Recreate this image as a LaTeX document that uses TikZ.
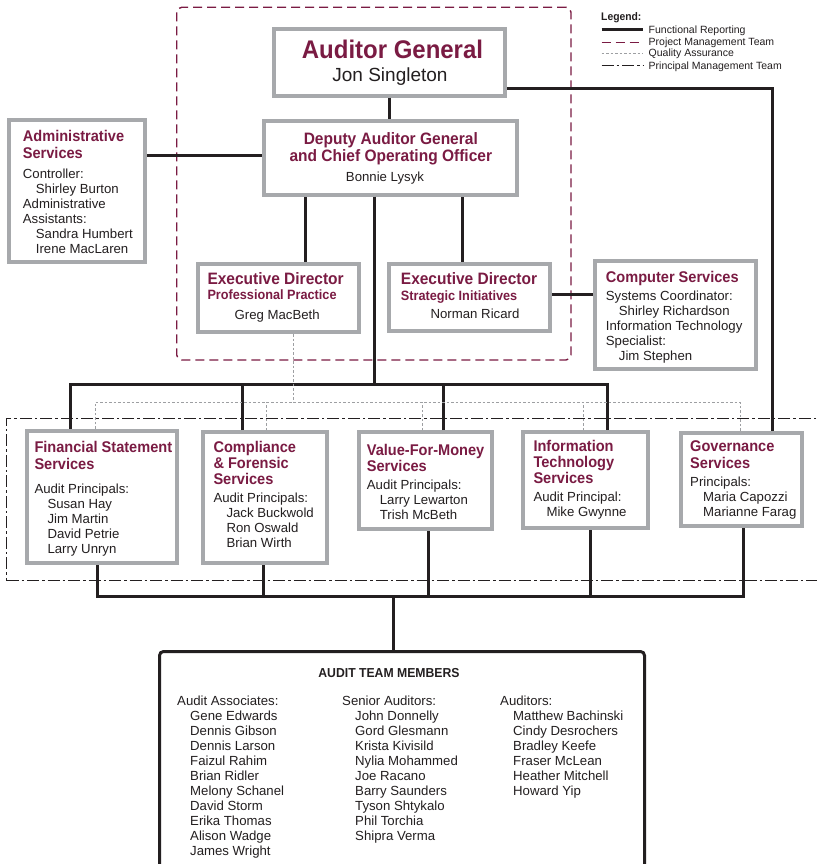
\documentclass[tikz,border=0pt]{standalone}
\usepackage{fontspec}
\setmainfont{Liberation Sans}[BoldFeatures={FakeStretch=0.94}]
\definecolor{oagmaroon}{HTML}{7A1B43}
\definecolor{framegray}{HTML}{A7A9AC}
\definecolor{ink}{HTML}{231F20}
\definecolor{qagray}{HTML}{9D9FA2}
\newcommand{\indname}{\hspace*{13pt}}

\begin{document}
\begin{tikzpicture}[x=1pt, y=-1pt,
  box/.style={rectangle, draw=framegray, line width=4pt, fill=white, inner sep=0pt, outer sep=2pt},
  ttl/.style={font=\bfseries\fontsize{15.5}{16.3}\selectfont, text=oagmaroon, align=left, inner sep=0pt, anchor=base west},
  bigttl/.style={ttl, font=\bfseries\fontsize{16.5}{17.7}\selectfont},
  subttl/.style={ttl, font=\bfseries\fontsize{13.5}{15}\selectfont},
  txt/.style={font=\fontsize{13.2}{15}\selectfont, text=ink, align=left, inner sep=0pt, anchor=base west},
  legtxt/.style={txt, font=\fontsize{10.5}{12}\selectfont},
  fun/.style={draw=ink, line width=3pt},
  qa/.style={draw=qagray, line width=0.9pt, dash pattern=on 2.5pt off 2pt},
  proj/.style={draw=oagmaroon, line width=1.4pt, dash pattern=on 9pt off 5pt},
  princ/.style={draw=ink, line width=1.3pt, dash pattern=on 12pt off 3pt on 2.5pt off 3pt}]
\path[use as bounding box, fill=white] (0,0) rectangle (816,864);
% team outlines
\node[proj, rounded corners=5pt, minimum width=394.3pt, minimum height=352.7pt, inner sep=0pt] (projteam) at (373.85,183.65) {};
\node[princ, minimum width=833.3pt, minimum height=162.4pt, inner sep=0pt] (princteam) at (423.35,499.5) {};
% boxes
\node[box, minimum width=231pt, minimum height=67pt] (ag) at (389.8,62.2) {};
\node[box, minimum width=253.3pt, minimum height=73.2pt] (dep) at (390.6,157.9) {};
\node[box, minimum width=135.7pt, minimum height=142pt] (admin) at (76.9,191) {};
\node[box, minimum width=161pt, minimum height=68.3pt] (pp) at (278.2,297.9) {};
\node[box, minimum width=161pt, minimum height=67.6pt] (si) at (469.8,297.5) {};
\node[box, minimum width=161pt, minimum height=107.7pt] (cs) at (675.8,315.2) {};
\node[box, minimum width=150.3pt, minimum height=132.3pt] (fss) at (102.2,496.9) {};
\node[box, minimum width=124pt, minimum height=131.3pt] (comp) at (264.7,497.7) {};
\node[box, minimum width=133.3pt, minimum height=97.3pt] (vfm) at (425.4,480.7) {};
\node[box, minimum width=125.3pt, minimum height=96pt] (it) at (585.4,480) {};
\node[box, minimum width=120.7pt, minimum height=93.3pt] (gov) at (741.7,479.4) {};
\node[draw=ink, line width=3pt, rounded corners=4pt, inner sep=0pt, outer sep=1.5pt, minimum width=485pt, minimum height=248.5pt] (team) at (402,775.75) {};
% functional reporting
\draw[fun] (ag.south) -- (ag.south |- dep.north);
\draw[fun] ([yshift=2pt]dep.west) -- ([yshift=2pt]dep.west -| admin.east);
\draw[fun] ([xshift=26.8pt]pp.north) -- ([xshift=26.8pt]pp.north |- dep.south);
\draw[fun] ([xshift=-7.1pt]si.north) -- ([xshift=-7.1pt]si.north |- dep.south);
\draw[fun] ([yshift=3.2pt]si.east) -- ([yshift=3.2pt]si.east -| cs.west);
\draw[fun] ([yshift=-26.1pt]ag.east) -| ([xshift=31pt]gov.north);
\coordinate (topbus) at (374,384);
\draw[fun] ([xshift=-16.6pt]dep.south) -- (topbus);
\draw[fun] ([xshift=-32.2pt]fss.north) |- (topbus) -| ([xshift=22pt]it.north);
\foreach \b/\dx in {comp/-22pt, vfm/18pt}
  \draw[fun] ([xshift=\dx]\b.north) -- ([xshift=\dx]\b.north |- topbus);
\coordinate (botbus) at (393.75,596.7);
\draw[fun] ([xshift=-4.8pt]fss.south) |- (botbus) -| ([xshift=2pt]gov.south);
\foreach \b/\dx in {comp/-1.7pt, vfm/2.7pt, it/4.7pt}
  \draw[fun] ([xshift=\dx]\b.south) -- ([xshift=\dx]\b.south |- botbus);
\draw[fun] (botbus) -- (botbus |- team.north);
% quality assurance
\coordinate (qatop) at (293.3,402.3);
\draw[qa] (pp.south -| qatop) -- (qatop);
\draw[qa] ([xshift=-7.2pt]fss.north) |- (qatop) -| ([xshift=-1.7pt]gov.north);
\foreach \b/\dx in {comp/1.3pt, vfm/-3.3pt, it/-2.3pt}
  \draw[qa] ([xshift=\dx]\b.north) -- ([xshift=\dx]\b.north |- qatop);
% texts (multi-line nodes sit on their last baseline)
\node[ttl, font=\bfseries\fontsize{25.5}{28}\selectfont, anchor=base] (ag-t) at (392.5,58.3) {Auditor General};
\node[txt, font=\fontsize{19}{22}\selectfont, anchor=base] (ag-n) at (390,82) {Jon Singleton};
\node[bigttl, anchor=base, align=center] (dep-t) at (390.8,161.7) {Deputy Auditor General\\and Chief Operating Officer};
\node[txt, anchor=base] (dep-n) at (385,181.7) {Bonnie Lysyk};
\node[ttl] (admin-t) at (22.7,158) {Administrative\\Services};
\node[txt] (admin-b) at (22.7,253.3) {Controller:\\\indname Shirley Burton\\Administrative\\Assistants:\\\indname Sandra Humbert\\\indname Irene MacLaren};
\node[bigttl] (pp-t) at (207.3,284.3) {Executive Director};
\node[subttl] (pp-s) at (207.3,299) {Professional Practice};
\node[txt, anchor=base] (pp-n) at (277.2,319) {Greg MacBeth};
\node[bigttl] (si-t) at (400.7,284.3) {Executive Director};
\node[subttl] (si-s) at (400.7,300) {Strategic Initiatives};
\node[txt, anchor=base] (si-n) at (475,318) {Norman Ricard};
\node[ttl] (cs-t) at (605.7,282.3) {Computer Services};
\node[txt] (cs-b) at (605.7,360) {Systems Coordinator:\\\indname Shirley Richardson\\Information Technology\\Specialist:\\\indname Jim Stephen};
\node[ttl] (fss-t) at (34.3,469) {Financial Statement\\Services};
\node[txt] (fss-b) at (34.3,553.3) {Audit Principals:\\\indname Susan Hay\\\indname Jim Martin\\\indname David Petrie\\\indname Larry Unryn};
\node[ttl] (comp-t) at (213.3,484.9) {Compliance\\\& Forensic\\Services};
\node[txt] (comp-b) at (213.3,547.7) {Audit Principals:\\\indname Jack Buckwold\\\indname Ron Oswald\\\indname Brian Wirth};
\node[ttl] (vfm-t) at (366.7,471.3) {Value-For-Money\\Services};
\node[txt] (vfm-b) at (366.7,519) {Audit Principals:\\\indname Larry Lewarton\\\indname Trish McBeth};
\node[ttl] (it-t) at (533.3,483.6) {Information\\Technology\\Services};
\node[txt] (it-b) at (533.3,516.7) {Audit Principal:\\\indname Mike Gwynne};
\node[ttl] (gov-t) at (690,468) {Governance\\Services};
\node[txt] (gov-b) at (690,516.7) {Principals:\\\indname Maria Capozzi\\\indname Marianne Farag};
\node[txt, font=\bfseries\fontsize{13}{15}\selectfont, anchor=base] (team-t) at (389,677) {AUDIT TEAM MEMBERS};
\node[txt] (col1) at (177,855) {Audit Associates:\\\indname Gene Edwards\\\indname Dennis Gibson\\\indname Dennis Larson\\\indname Faizul Rahim\\\indname Brian Ridler\\\indname Melony Schanel\\\indname David Storm\\\indname Erika Thomas\\\indname Alison Wadge\\\indname James Wright};
\node[txt] (col2) at (342,840) {Senior Auditors:\\\indname John Donnelly\\\indname Gord Glesmann\\\indname Krista Kivisild\\\indname Nylia Mohammed\\\indname Joe Racano\\\indname Barry Saunders\\\indname Tyson Shtykalo\\\indname Phil Torchia\\\indname Shipra Verma};
\node[txt] (col3) at (500,795) {Auditors:\\\indname Matthew Bachinski\\\indname Cindy Desrochers\\\indname Bradley Keefe\\\indname Fraser McLean\\\indname Heather Mitchell\\\indname Howard Yip};
% legend
\node[txt, font=\bfseries\fontsize{11}{13}\selectfont] (legend) at (601,20.7) {Legend:};
\foreach \y/\sty/\lbl [count=\i] in {30/fun/Functional Reporting, 42.3/proj/Project Management Team, 53.3/qa/Quality Assurance, 65.7/princ/Principal Management Team} {
  \coordinate (key\i) at (601.5,\y);
  \node[legtxt] (leg\i) at (648.5,\y+3.7) {\lbl};
  \draw[\sty] (key\i) -- ++(41.8,0);
}
\end{tikzpicture}
\end{document}
